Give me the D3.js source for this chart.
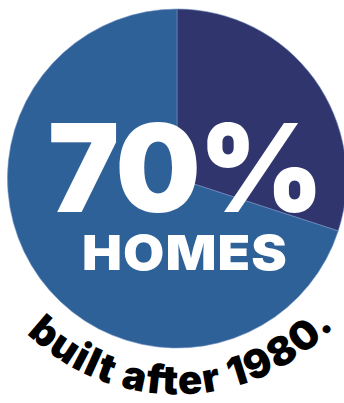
<!DOCTYPE html>
<html>
<head>
<meta charset="utf-8">
<script src="https://cdn.jsdelivr.net/npm/d3@7"></script>
<style>
  html, body { margin: 0; padding: 0; background: #ffffff; }
  svg { display: block; }
</style>
</head>
<body>
<svg id="chart" width="344" height="403"></svg>
<script>
// Share of homes by construction period
const categories = ["Built 1980 or earlier", "Built after 1980"];
const values = [30, 70];
const colors = ["#31356d", "#2f6199"];
const headlineUnit = "HOMES";
const captionText = "built after 1980.";

const width = 344, height = 403;
const cx = 177, cy = 178.5, radius = 169.5;

const svg = d3.select("#chart");
const g = svg.append("g").attr("transform", `translate(${cx},${cy})`);

const color = d3.scaleOrdinal().domain(categories).range(colors);
const pie = d3.pie().sort(null).value(d => d.value);
const arc = d3.arc().innerRadius(0).outerRadius(radius);

const slices = pie(categories.map((c, i) => ({ category: c, value: values[i] })));

g.selectAll("path.slice")
  .data(slices)
  .join("path")
  .attr("class", "slice")
  .attr("d", arc)
  .attr("fill", d => color(d.data.category))
  .attr("stroke", "#6f8fbf")
  .attr("stroke-width", 0.6);

// Widen a centred label horizontally so it spans the given width
function stretchTo(sel, x, targetWidth) {
  const w = sel.node().getComputedTextLength();
  const k = targetWidth / w;
  sel.attr("transform", `translate(${x},0) scale(${k},1) translate(${-x},0)`);
}

// Headline: share built after 1980
const mainIdx = categories.indexOf("Built after 1980");
const pct = svg.append("text")
  .attr("x", 185)
  .attr("y", 212)
  .attr("text-anchor", "middle")
  .attr("font-family", "Inter, sans-serif")
  .attr("font-weight", 900)
  .attr("font-size", 122)
  .attr("letter-spacing", -2)
  .attr("fill", "#ffffff")
  .text(values[mainIdx] + "%");
stretchTo(pct, 185, 274);

const unit = svg.append("text")
  .attr("x", 185)
  .attr("y", 270)
  .attr("text-anchor", "middle")
  .attr("font-family", "Inter, sans-serif")
  .attr("font-weight", 900)
  .attr("font-size", 48)
  .attr("letter-spacing", 1)
  .attr("fill", "#ffffff")
  .text(headlineUnit);
stretchTo(unit, 185, 206);

// Caption curved along the bottom of the circle
const R = 216;
const a0 = Math.PI, a1 = 0; // screen angles, left to right through the bottom
const p0 = [cx + R * Math.cos(a0), cy + R * Math.sin(a0)];
const p1 = [cx + R * Math.cos(a1), cy + R * Math.sin(a1)];
svg.append("defs").append("path")
  .attr("id", "captionArc")
  .attr("d", `M${p0[0]},${p0[1]} A${R},${R} 0 0 0 ${p1[0]},${p1[1]}`);

const midAngle = 88.5; // degrees, centre of the caption
const offsetPct = (180 - midAngle) / 180 * 100;
svg.append("text")
  .attr("font-family", "Inter, sans-serif")
  .attr("font-weight", 900)
  .attr("font-size", 40)
  .attr("letter-spacing", 1.5)
  .attr("fill", "#000000")
  .append("textPath")
  .attr("href", "#captionArc")
  .attr("startOffset", offsetPct + "%")
  .attr("text-anchor", "middle")
  .text(captionText);
</script>
</body>
</html>
